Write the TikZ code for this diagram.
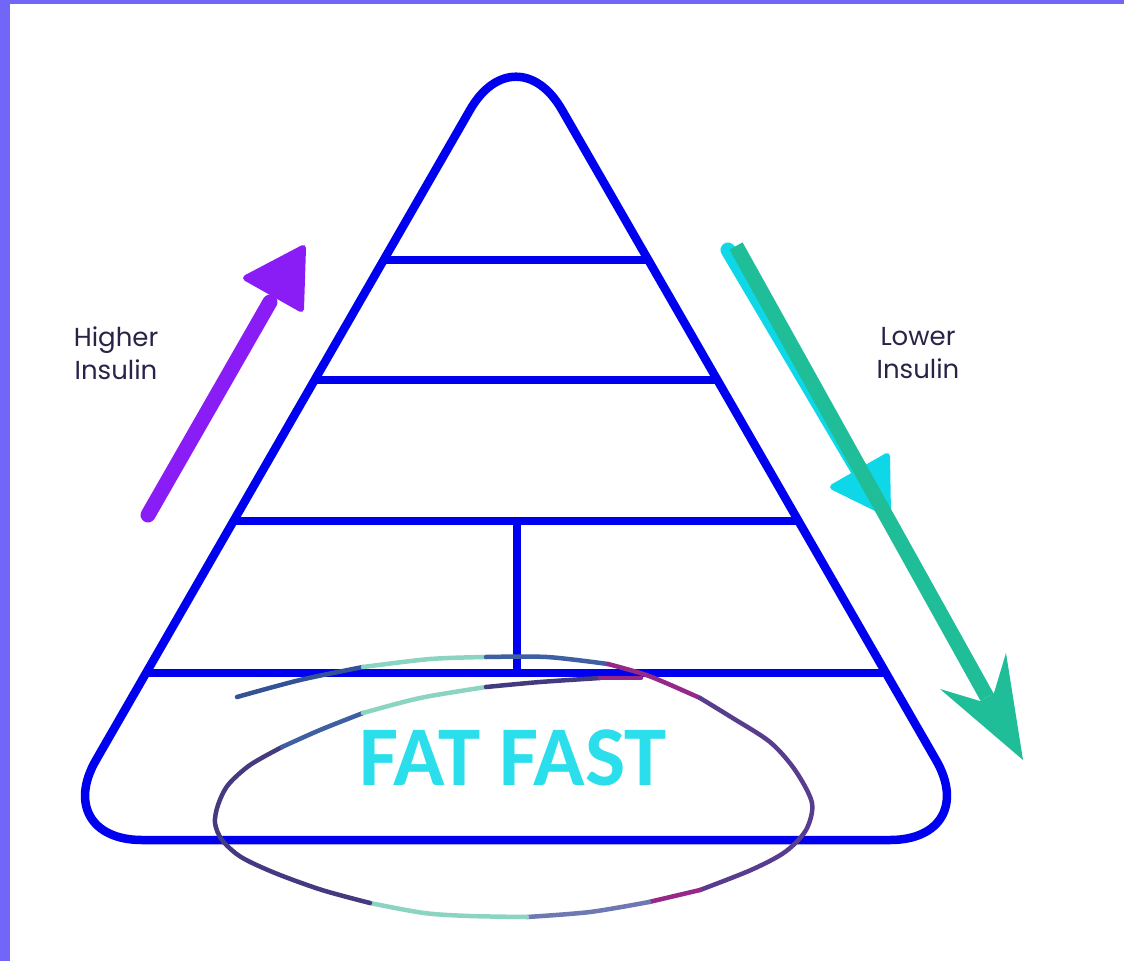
\documentclass[tikz,border=0pt]{standalone}
\usepackage{fontspec}
\newfontfamily\poppins{Poppins}
\newfontfamily\carlito{Carlito}
\usetikzlibrary{calc}

\definecolor{pyrblue}{RGB}{0,0,240}
\definecolor{sidebar}{RGB}{114,102,248}
\definecolor{labelink}{RGB}{40,36,72}
\definecolor{insulinup}{RGB}{138,28,245}
\definecolor{insulincyan}{RGB}{14,216,232}
\definecolor{insulindown}{RGB}{32,190,152}
\definecolor{fatcyan}{RGB}{42,222,236}
% ink colours of the hand drawn loop
\definecolor{inknavy}{RGB}{52,82,150}
\definecolor{inkteal}{RGB}{140,212,194}
\definecolor{inkblue}{RGB}{62,96,162}
\definecolor{inkmag}{RGB}{150,40,138}
\definecolor{inkpurple}{RGB}{88,60,142}
\definecolor{inklav}{RGB}{110,120,178}
\definecolor{inkdark}{RGB}{68,58,128}

\begin{document}
\begin{tikzpicture}[x=1pt,y=-1pt,
  tier/.style={line width=8.5pt, pyrblue},
  sidelabel/.style={font=\poppins\fontsize{26}{33}\selectfont, text=labelink,
    align=center, inner sep=0pt},
  shaft/.style={line width=15pt, line cap=round},
  roundhead/.style={line width=6pt, line join=round},
  inkloop/.style={line width=4.5pt, line cap=round, line join=round}]

  \useasboundingbox (0,0) rectangle (1124,961);
  \fill[white] (0,0) rectangle (1124,961);

  % Frame strips on the left and at the top
  \fill[sidebar] (0,0) rectangle (10,961);
  \fill[sidebar] (0,0) rectangle (1124,4);

  % Pyramid outline (equilateral, rounded corners)
  \coordinate (apex) at (516,30);
  \coordinate (bl) at (50,840);
  \coordinate (br) at (982,840);
  \draw[tier, rounded corners=92pt] (516,840) -- (br) -- (apex) -- (bl) -- cycle;

  % Tier lines
  \foreach \yy in {260, 380, 521, 673}{
    \draw[tier] ($(apex)!{(\yy-30)/810}!(bl)$) -- ($(apex)!{(\yy-30)/810}!(br)$);
  }
  \coordinate (splittop) at (517,521);
  \coordinate (splitbot) at (517,673);
  \draw[tier] (splittop) -- (splitbot);

  % Higher insulin arrow
  \coordinate (uptail) at (148,515);
  \coordinate (upend) at (270,302);
  \draw[shaft, insulinup] (uptail) -- (upend);
  \filldraw[roundhead, insulinup] (303,248) -- (246,278) -- (301,309) -- cycle;

  % Lower insulin arrows (cyan one behind the green one)
  \coordinate (cyantail) at (728,250);
  \coordinate (cyanend) at (858,470);
  \draw[shaft, insulincyan] (cyantail) -- (cyanend);
  \filldraw[roundhead, insulincyan] (833,487) -- (887,456) -- (888,514) -- cycle;

  \coordinate (downtail) at (736,246);
  \coordinate (downend) at (987,697);
  \draw[line width=15pt, insulindown] (downtail) -- (downend);
  \fill[insulindown] (1023,760) -- (1006,653) -- (994,693) -- (980,701)
    -- (940,689) -- cycle;

  \node[sidelabel] (higher) at (116,353) {Higher\\Insulin};
  \node[sidelabel] (lower) at (918,353) {Lower\\Insulin};

  \node[font=\carlito\bfseries\fontsize{85}{85}\selectfont, text=fatcyan,
    inner sep=0pt] (fatfast) at (513,758) {FAT FAST};

  % Hand drawn loop round the bottom tier
  \draw[inkloop, inknavy] plot[smooth] coordinates {(237,697) (300,680) (363,667)};
  \draw[inkloop, inkteal] plot[smooth] coordinates {(363,667) (430,659) (486,657)};
  \draw[inkloop, inkblue] plot[smooth] coordinates {(486,657) (547,657) (608,664)};
  \draw[inkloop, inkmag] plot[smooth] coordinates {(608,664) (649,676) (700,698)};
  \draw[inkloop, inkpurple] plot[smooth] coordinates {(700,698) (731,717) (770,742)
    (795,770) (812,803) (806,830) (785,852) (751,870) (700,890)};
  \draw[inkloop, inkmag] plot[smooth] coordinates {(700,890) (649,902)};
  \draw[inkloop, inklav] plot[smooth] coordinates {(649,902) (590,912) (527,917)};
  \draw[inkloop, inkteal] plot[smooth] coordinates {(527,917) (470,916) (424,913) (370,903)};
  \draw[inkloop, inkdark] plot[smooth] coordinates {(370,903) (322,890) (275,873)
    (241,857) (222,840) (215,823) (218,805) (228,785) (250,765) (282,747)};
  \draw[inkloop, inkblue] plot[smooth] coordinates {(282,747) (320,730) (363,713)};
  \draw[inkloop, inkteal] plot[smooth] coordinates {(363,713) (420,698) (486,687)};
  \draw[inkloop, inkdark] plot[smooth] coordinates {(486,687) (540,682) (600,678)};
  \draw[inkloop, inkmag] plot[smooth] coordinates {(600,678) (641,678)};

\end{tikzpicture}
\end{document}
